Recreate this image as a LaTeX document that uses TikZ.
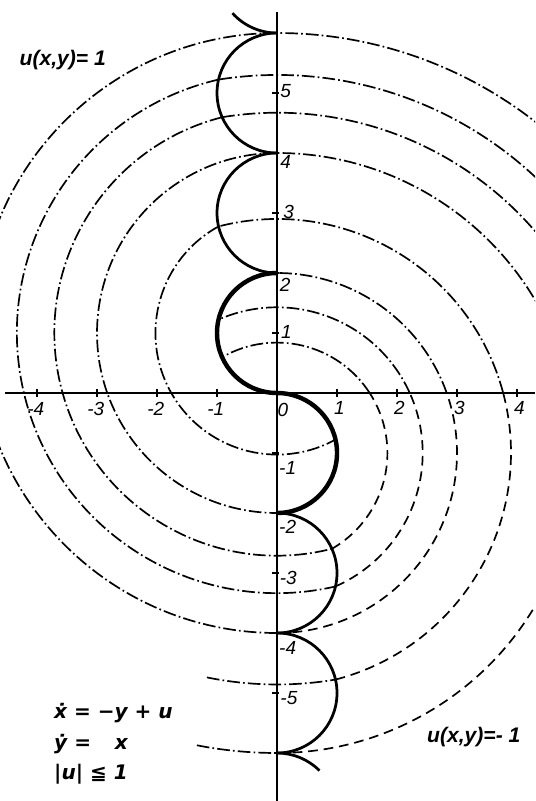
\documentclass[tikz,border=0pt]{standalone}
\usepackage{fontspec}
\setmainfont{Liberation Sans}
\newfontfamily\eqfont{DejaVu Sans}

\begin{document}
\begin{tikzpicture}[
    axisline/.style={line width=0.7pt},
    switchline/.style={line width=1.3pt},
    finalarc/.style={line width=2.1pt},
    plusarc/.style={line width=0.8pt, dash pattern=on 6pt off 1.5pt on 0.8pt off 1.5pt},
    minusarc/.style={line width=0.8pt, dash pattern=on 4.6pt off 2.8pt},
    ticklabel/.style={font=\itshape\fontsize{9}{10}\selectfont, inner sep=0pt},
    regionlabel/.style={font=\bfseries\itshape\fontsize{10}{12}\selectfont, inner sep=0pt},
    eqlabel/.style={font=\eqfont\bfseries\itshape\fontsize{9.5}{14.5}\selectfont, align=left, inner sep=0pt}
  ]
\useasboundingbox (-4.617,-6.8) rectangle (4.3,6.55);
\clip (-4.617,-6.8) rectangle (4.3,6.55);

\foreach \R/\a/\b in {1.84/-60.2/119.8, 2.428/-66.3/113.7, 3/-90/90, 3.9/-75.5/104.5, 5/-90/90, 5.671/0/99.3, 6.3/0/98.9, 7/0/90}{
  \pgfmathsetmacro\m{asin(1/\R)}
  \draw[minusarc, shift={(0,-1)}] (\a:\R) arc[start angle=\a, end angle=\m, radius=\R];
  \draw[plusarc, shift={(0,-1)}] (\m:\R) arc[start angle=\m, end angle=\b, radius=\R];
}
\foreach \r/\a/\b in {5/90/270, 4.335/103/283, 3.711/104.3/284.3, 3/90/270, 2.026/118.8/298.8, 5.858/258.5/279.6, 7/259/270}
  \draw[plusarc, shift={(0,1)}] (\a:\r) arc[start angle=\a, end angle=\b, radius=\r];

\draw[axisline] (-4.53,0) -- (4.3,0);
\draw[axisline] (0,-6.8) -- (0,6.35);
\foreach \i in {-4,-3,-2,-1,1,2,3,4}
  \draw[axisline] (\i,-0.06) -- (\i,0.06);
\foreach \i in {-5,-4,-3,-2,-1,1,2,3,4,5}
  \draw[axisline] (-0.08,\i) -- (0.03,\i);

\draw[finalarc] (0,2) arc[start angle=90, end angle=270, radius=1];
\draw[finalarc] (0,-2) arc[start angle=-90, end angle=90, radius=1];
\foreach \yc in {3,5}{
  \draw[switchline] (0,\yc+1) arc[start angle=90, end angle=270, radius=1];
  \draw[switchline] (0,-\yc-1) arc[start angle=-90, end angle=90, radius=1];
}
\draw[switchline] (0,6) arc[start angle=270, end angle=222, radius=1];
\draw[switchline] (0,-6) arc[start angle=90, end angle=45, radius=1];

\foreach \i in {-4,-3,-2,-1}
  \node[ticklabel] (xl\i) at (\i-0.02,-0.27) {\i};
\node[ticklabel] (xl0) at (0.1,-0.28) {0};
\foreach \i in {1,2,3,4}
  \node[ticklabel] (xl\i) at (\i+0.04,-0.25) {\i};
\foreach \i/\x/\y in {5/0.05/5.03, 4/0.05/3.85, 3/0.1/3.02, 2/0.04/1.8, 1/0.06/1.02, -1/0.03/-1.25, -2/0.03/-2.23, -3/0.04/-3.08, -4/0.03/-4.25, -5/0.05/-5.08}
  \node[ticklabel, anchor=west] (yl\i) at (\x,\y) {\i};

\node[regionlabel] (uplus) at (-3.57,5.55) {u(x,y)= 1};
\node[regionlabel] (uminus) at (3.28,-5.73) {u(x,y)=- 1};
\node[eqlabel, anchor=north west] (system) at (-3.72,-5.17) {ẋ = −y + u\\ẏ = \hphantom{−}x\\|u| ≦ 1};
\end{tikzpicture}
\end{document}
